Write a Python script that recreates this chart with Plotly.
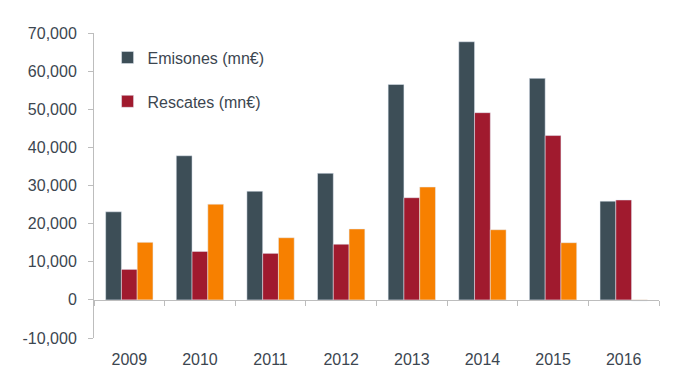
import plotly.graph_objects as go

years = ["2009", "2010", "2011", "2012", "2013", "2014", "2015", "2016"]
emisiones = [23100, 37800, 28500, 33200, 56500, 67700, 58100, 25900]
rescates = [8000, 12700, 12200, 14600, 26800, 49100, 43100, 26200]
neto = [15100, 25100, 16300, 18600, 29600, 18400, 15000, -300]

ytickvals = [-10000, 0, 10000, 20000, 30000, 40000, 50000, 60000, 70000]
yticktext = ["-10,000", "0", "10,000", "20,000", "30,000", "40,000", "50,000", "60,000", "70,000"]

font_family = "Liberation Sans, Arial, sans-serif"
text_color = "#3c4650"
axis_color = "#bdbdbd"

fig = go.Figure()
fig.add_trace(go.Bar(x=years, y=emisiones, name="Emisones (mn€)", marker_color="#3d4e57",
                     legendgroup="a"))
fig.add_trace(go.Bar(x=years, y=rescates, name="Rescates (mn€)", marker_color="#a01a2e",
                     legendgroup="b"))
fig.add_trace(go.Bar(x=years, y=neto, name="Neto (mn€)", marker_color="#f78000",
                     showlegend=False, legendgroup="c"))
# invisible helper trace for the zero-level category axis
fig.add_trace(go.Scatter(x=years, y=[0] * len(years), xaxis="x2", mode="markers",
                         marker=dict(opacity=0), showlegend=False, hoverinfo="skip"))

fig.update_layout(
    width=680, height=387,
    margin=dict(l=94, r=21, t=33, b=49),
    paper_bgcolor="white", plot_bgcolor="white",
    barmode="group", bargap=0.33, bargroupgap=0,
    font=dict(family=font_family, size=16, color=text_color),
    showlegend=True,
    legend=dict(x=0.024, y=0.975, xanchor="left", yanchor="top",
                bgcolor="rgba(0,0,0,0)", tracegroupgap=20,
                font=dict(size=16, color=text_color)),
    xaxis=dict(type="category", showline=False, ticks="", showgrid=False,
               zeroline=False, tickfont=dict(size=16, color=text_color),
               ticklabelstandoff=10),
    xaxis2=dict(type="category", overlaying="x", matches="x", anchor="free",
                position=0.125, side="bottom", showline=True, linecolor=axis_color,
                linewidth=1, ticks="outside", tickson="boundaries", ticklen=5,
                tickcolor=axis_color, showticklabels=False, showgrid=False),
    yaxis=dict(range=[-10000, 70000], tickvals=ytickvals, ticktext=yticktext,
               showline=True, linecolor=axis_color, linewidth=1, ticks="outside",
               ticklen=5, tickcolor=axis_color, showgrid=False, zeroline=False,
               tickfont=dict(size=16, color=text_color), ticklabelstandoff=8),
)

fig.write_html("out.html", config={"displayModeBar": False},
               post_script="document.body.style.margin='0';")
